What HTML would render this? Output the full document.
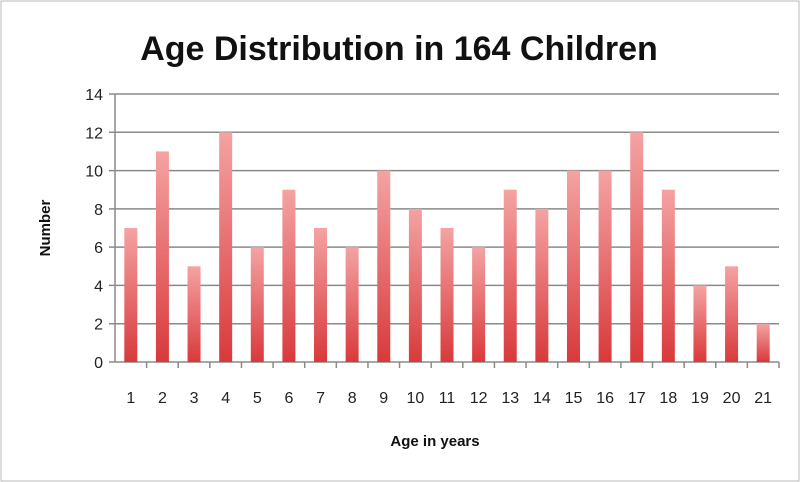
<!DOCTYPE html>
<html><head><meta charset="utf-8"><style>
body{margin:0;background:#fff}
svg{display:block;font-family:"Liberation Sans",sans-serif}
</style></head><body>
<svg width="800" height="482" viewBox="0 0 800 482">
<defs><linearGradient id="g" x1="0" y1="0" x2="0" y2="1"><stop offset="0" stop-color="#f4a3a3"/><stop offset="1" stop-color="#d9393b"/></linearGradient></defs>
<rect x="1" y="1" width="798" height="480" fill="#fff" stroke="#bbb"/>
<text x="399" y="60" text-anchor="middle" font-size="34" font-weight="bold" fill="#111">Age Distribution in 164 Children</text>
<g id="grid"></g><g id="bars"></g><g id="axes"></g>
<text x="435" y="446" text-anchor="middle" font-size="15" font-weight="bold" fill="#111">Age in years</text>
<text transform="translate(50,228) rotate(-90)" text-anchor="middle" font-size="15" font-weight="bold" fill="#111">Number</text>
</svg>
<script>
const categories=["1","2","3","4","5","6","7","8","9","10","11","12","13","14","15","16","17","18","19","20","21"];
const values=[7,11,5,12,6,9,7,6,10,8,7,6,9,8,10,10,12,9,4,5,2];
const yTicks=[0,2,4,6,8,10,12,14];
const ns="http://www.w3.org/2000/svg";
const L=115,R=779,T=94,B=362,yMax=14;
const bw=(R-L)/categories.length;
const y=v=>B-(B-T)*v/yMax;
const x=i=>L+bw*i;
function mk(t,a,p){const e=document.createElementNS(ns,t);for(const k in a)e.setAttribute(k,a[k]);p.appendChild(e);return e;}
const grid=document.getElementById('grid'),bars=document.getElementById('bars'),axes=document.getElementById('axes');
yTicks.forEach(v=>{
 const l=mk('line',{x1:L-6,x2:R,y1:y(v),y2:y(v),stroke:'#8a8a8a','stroke-width':1.5},grid);
 
 
 const t=mk('text',{x:L-12,y:y(v)+6,'text-anchor':'end','font-size':16,fill:'#222'},axes);
 t.textContent=v;
 
 
});
mk('line',{x1:L,x2:L,y1:T,y2:B,stroke:'#8a8a8a','stroke-width':1.5},axes);
categories.forEach((c,i)=>{
 const r=mk('rect',{x:x(i)+bw/2-6.5,y:y(values[i]),width:13,height:B-y(values[i]),fill:'url(#g)'},bars);
 
 
 mk('line',{x1:x(i+1),x2:x(i+1),y1:B,y2:B+6,stroke:'#8a8a8a','stroke-width':1.5},axes);
 const t=mk('text',{x:x(i)+bw/2,y:403,'text-anchor':'middle','font-size':16,fill:'#222'},axes);
 t.textContent=c;
 
 
});
</script>
</body></html>
